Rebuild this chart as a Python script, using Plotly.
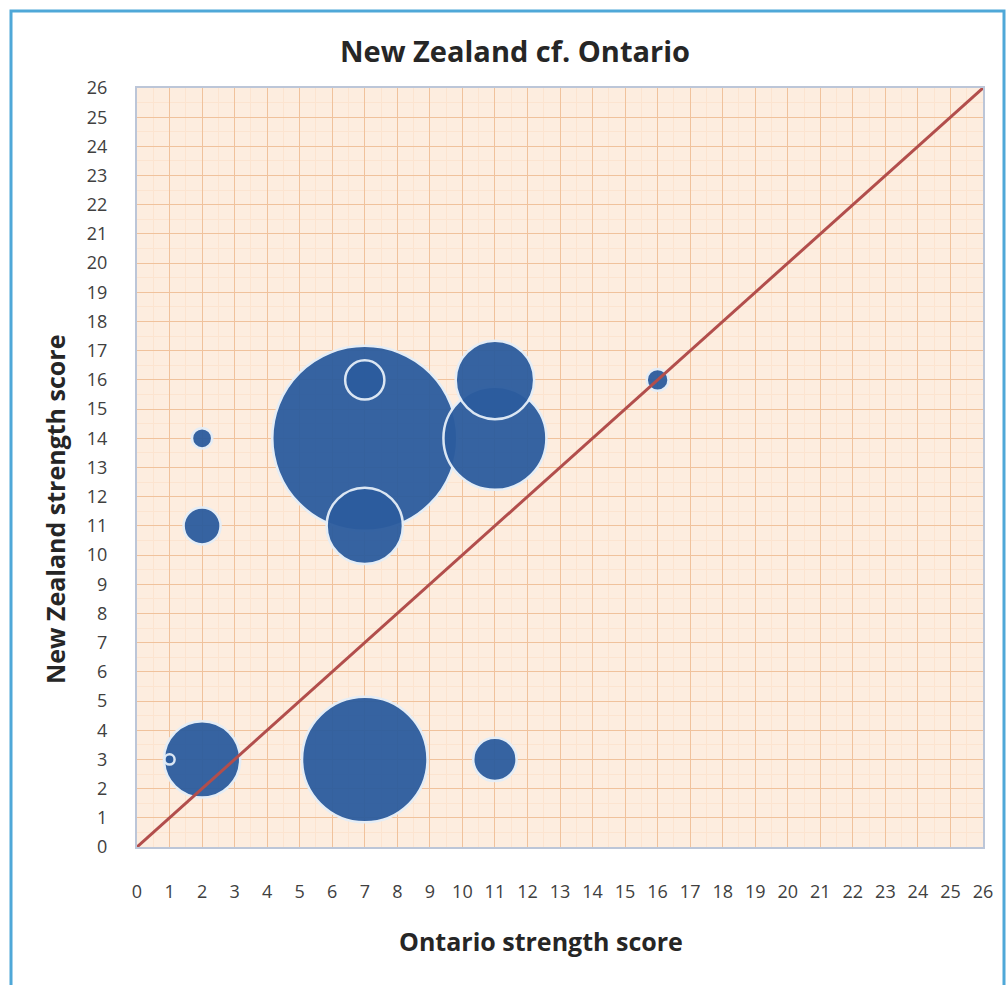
import plotly.graph_objects as go

# Data
ontario = [7, 7, 11, 11, 7, 2, 11, 2, 7, 16, 2, 1]
new_zealand = [14, 3, 14, 16, 11, 3, 3, 11, 16, 16, 14, 3]
counts = [100, 46, 31, 18, 17, 17, 5.5, 4, 4.5, 1.4, 1.2, 0.3]
tick_vals = list(range(0, 27))
tick_text = [str(v) for v in tick_vals]
diag = [0, 26]

max_diam = 185.0
sizeref = 2.0 * max(counts) / (max_diam ** 2)

fig = go.Figure()
fig.add_trace(go.Scatter(
    x=ontario, y=new_zealand, mode="markers",
    marker=dict(size=counts, sizemode="area", sizeref=sizeref,
                color="#2C5C9E", opacity=0.95,
                line=dict(color="#E4EEF8", width=2.5)),
    cliponaxis=False, showlegend=False, hoverinfo="x+y",
))
fig.add_trace(go.Scatter(
    x=diag, y=diag, mode="lines",
    line=dict(color="#B24E4C", width=3),
    showlegend=False, hoverinfo="skip",
))

font_family = "'Open Sans', Lato, sans-serif"
axis_common = dict(
    range=[0, 26], tickmode="array", tickvals=tick_vals, ticktext=tick_text,
    showgrid=True, gridcolor="#F0C29C", gridwidth=1,
    minor=dict(dtick=0.5, showgrid=True, gridcolor="#FCE4D0", gridwidth=1),
    zeroline=False, showline=True, linecolor="#BCC6D8", linewidth=2, mirror=True,
    ticks="", tickfont=dict(family=font_family, size=18, color="#404040"),
    fixedrange=True,
)

W, H = 1008, 985
L, R, T, B = 137, 25, 88, 138
pw, ph = W - L - R, H - T - B

def px_x(x):
    return (x - L) / pw

def px_y(y):
    return (H - B - y) / ph

title_font = dict(family=font_family, size=25, color="#262626")

fig.update_layout(
    width=W, height=H,
    margin=dict(l=L, r=R, t=T, b=B),
    paper_bgcolor="white", plot_bgcolor="#FDEDDF",
    title=dict(text="<b>New Zealand cf. Ontario</b>", x=515 / W, xanchor="center",
               y=1 - 52 / H, yanchor="middle",
               font=dict(family=font_family, size=29, color="#262626")),
    xaxis=dict(axis_common, ticklabelstandoff=27),
    yaxis=dict(axis_common, ticklabelstandoff=24),
    annotations=[
        dict(text="<b>Ontario strength score</b>", xref="paper", yref="paper",
             x=px_x(541), y=px_y(941), xanchor="center", yanchor="middle",
             showarrow=False, font=title_font),
        dict(text="<b>New Zealand strength score</b>", xref="paper", yref="paper",
             x=px_x(55), y=px_y(510), xanchor="center", yanchor="middle",
             textangle=-90, showarrow=False, font=title_font),
    ],
    shapes=[dict(type="rect", xref="paper", yref="paper",
                 x0=px_x(11), x1=px_x(1004),
                 y0=px_y(1000), y1=px_y(11),
                 line=dict(color="#4FA8D8", width=3), layer="below")],
)

fig.write_html("out.html")
